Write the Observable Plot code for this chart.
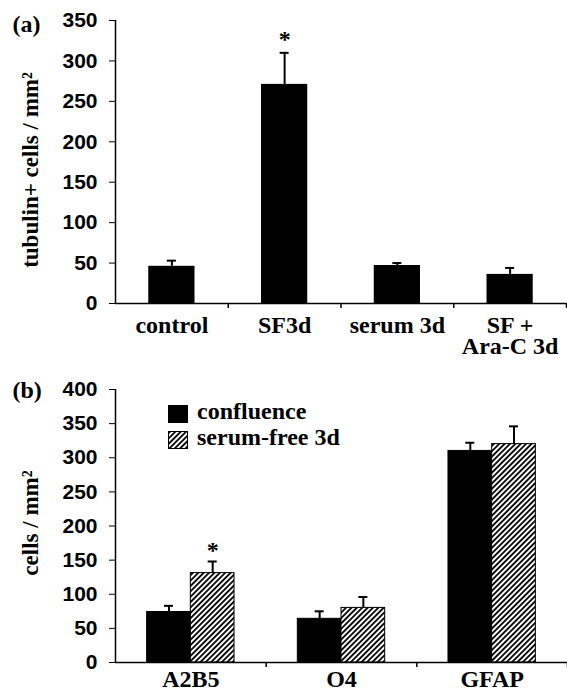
<!DOCTYPE html>
<html>
<head>
<meta charset="utf-8">
<script src="https://cdn.jsdelivr.net/npm/d3@7"></script>
<script src="https://cdn.jsdelivr.net/npm/@observablehq/plot@0.6"></script>
<style>
  html, body { margin: 0; padding: 0; background: #fff; }
  #wrap { position: relative; width: 567px; height: 693px; overflow: hidden; }
  #panelA, #panelB, #legend { position: absolute; left: 0; }
  #panelA { top: 0; }
  #panelB { top: 360px; }
  #legend { top: 0; pointer-events: none; }
</style>
</head>
<body>
<div id="wrap">
  <div id="panelA"></div>
  <div id="panelB"></div>
  <svg id="legend" width="567" height="693">
    <defs>
      <pattern id="hatch" patternUnits="userSpaceOnUse" width="3.8" height="3.8" patternTransform="rotate(45)">
        <rect width="3.8" height="3.8" fill="#fff"></rect>
        <line x1="1.9" y1="0" x2="1.9" y2="3.8" stroke="#000" stroke-width="1.8"></line>
      </pattern>
    </defs>
  </svg>
</div>
<script>
// ---------- Panel (a) data ----------
const catsA = ["control", "SF3d", "serum 3d", "SF +\nAra-C 3d"];
const meanA = [46, 271, 47, 36];
const errA = [7, 39, 3, 8];
const sigA = ["SF3d"];
const yTicksA = [0, 50, 100, 150, 200, 250, 300, 350];
const yLabelA = "tubulin+ cells / mm²";
const panelLabelA = "(a)";

// ---------- Panel (b) data ----------
const catsB = ["A2B5", "O4", "GFAP"];
const seriesB = ["confluence", "serum-free 3d"];
const confluenceMean = [74, 64, 310];
const confluenceErr = [9, 11, 12];
const serumFreeMean = [131, 80, 320];
const serumFreeErr = [17, 16, 26];
const sigB = [["A2B5", "serum-free 3d"]];
const yTicksB = [0, 50, 100, 150, 200, 250, 300, 350, 400];
const yLabelB = "cells / mm²";
const panelLabelB = "(b)";

// ---------- styling ----------
const SERIF = "Liberation Serif";
const SANS = "Liberation Sans";
const fills = ["#000", "url(#hatch)"];
const serifText = {fontFamily: SERIF, fontWeight: "bold", fontSize: 24};
const yLabelText = {fontFamily: SERIF, fontWeight: "bold", fontSize: 23};

// ---------- Panel (a) ----------
const rowsA = catsA.map((cat, i) => ({cat, i, mean: meanA[i], err: errA[i]}));
const bwA = 0.41, capA = 0.04;

const plotA = Plot.plot({
  width: 567, height: 360,
  marginLeft: 115, marginRight: 1, marginTop: 20, marginBottom: 57,
  style: {fontFamily: SANS, fontWeight: "bold", fontSize: "21px", background: "#fff", overflow: "visible"},
  x: {domain: [0, catsA.length], axis: null},
  y: {domain: [0, 350], axis: null},
  marks: [
    Plot.axisY({ticks: yTicksA, tickSize: 6, tickPadding: 12, label: null, tickFormat: d => d,
      fontFamily: SANS, fontWeight: "bold", fontSize: 21}),
    Plot.rectY(rowsA, {x1: d => d.i + 0.5 - bwA / 2, x2: d => d.i + 0.5 + bwA / 2, y1: 0, y2: "mean", fill: "#000"}),
    Plot.ruleX(rowsA, {x: d => d.i + 0.5, y1: "mean", y2: d => d.mean + d.err, strokeWidth: 2}),
    Plot.ruleY(rowsA, {y: d => d.mean + d.err, x1: d => d.i + 0.5 - capA, x2: d => d.i + 0.5 + capA, strokeWidth: 2}),
    Plot.ruleY([0], {strokeWidth: 1.5}),
    Plot.ruleX([0], {strokeWidth: 1.5}),
    Plot.ruleX(d3.range(1, catsA.length + 1), {x: d => d, y1: 0, y2: 0, insetBottom: -5, strokeWidth: 1.5}),
    Plot.text(rowsA, {x: d => d.i + 0.5, y: 0, text: "cat", lineAnchor: "top", lineHeight: 0.9, dy: 14, ...serifText}),
    Plot.text(rowsA.filter(d => sigA.includes(d.cat)), {x: d => d.i + 0.5, y: d => d.mean + d.err, text: () => "*",
      lineAnchor: "bottom", dy: -6, ...serifText}),
    Plot.text([yLabelA], {text: d => d, frameAnchor: "left", rotate: -90, dx: -85, dy: 8,
      textAnchor: "middle", lineAnchor: "middle", ...yLabelText}),
    Plot.text([panelLabelA], {text: d => d, frameAnchor: "top-left", dx: -103, dy: 11,
      textAnchor: "start", lineAnchor: "bottom", ...serifText})
  ]
});
document.getElementById("panelA").appendChild(plotA);

// ---------- Panel (b) ----------
const meansB = [confluenceMean, serumFreeMean];
const errsB = [confluenceErr, serumFreeErr];
const rowsB = [];
catsB.forEach((cat, i) => seriesB.forEach((series, j) => {
  rowsB.push({cat, i, series, j, mean: meansB[j][i], err: errsB[j][i]});
}));
const bwB = 0.29, capB = 0.03;
const cx = d => d.i + 0.5 + (d.j - 0.5) * bwB;

const plotB = Plot.plot({
  width: 567, height: 333,
  marginLeft: 115, marginRight: 0, marginTop: 29, marginBottom: 31,
  style: {fontFamily: SANS, fontWeight: "bold", fontSize: "21px", background: "transparent", overflow: "visible"},
  x: {domain: [0, catsB.length], axis: null},
  y: {domain: [0, 400], axis: null},
  marks: [
    Plot.axisY({ticks: yTicksB, tickSize: 6, tickPadding: 12, label: null, tickFormat: d => d,
      fontFamily: SANS, fontWeight: "bold", fontSize: 21}),
    Plot.rectY(rowsB, {x1: d => cx(d) - bwB / 2, x2: d => cx(d) + bwB / 2, y1: 0, y2: "mean",
      fill: d => fills[d.j], stroke: "#000", strokeWidth: 1}),
    Plot.ruleX(rowsB, {x: cx, y1: "mean", y2: d => d.mean + d.err, strokeWidth: 2}),
    Plot.ruleY(rowsB, {y: d => d.mean + d.err, x1: d => cx(d) - capB, x2: d => cx(d) + capB, strokeWidth: 2}),
    Plot.ruleY([0], {strokeWidth: 1.5}),
    Plot.ruleX([0], {strokeWidth: 1.5}),
    Plot.ruleX(d3.range(1, catsB.length + 1), {x: d => d, y1: 0, y2: 0, insetBottom: -5, strokeWidth: 1.5}),
    Plot.text(catsB, {x: (d, i) => i + 0.5, y: 0, text: d => d, lineAnchor: "top", lineHeight: 0.9, dy: 9, ...serifText}),
    Plot.text(rowsB.filter(d => sigB.some(([c, s]) => c === d.cat && s === d.series)),
      {x: cx, y: d => d.mean + d.err, text: () => "*", lineAnchor: "bottom", dy: -3, ...serifText}),
    Plot.text([yLabelB], {text: d => d, frameAnchor: "left", rotate: -90, dx: -85, dy: -3,
      textAnchor: "middle", lineAnchor: "middle", ...yLabelText}),
    Plot.text([panelLabelB], {text: d => d, frameAnchor: "top-left", dx: -103, dy: 8,
      textAnchor: "start", lineAnchor: "bottom", ...serifText})
  ]
});
document.getElementById("panelB").appendChild(plotB);

// ---------- Legend (panel b) ----------
const legend = d3.select("#legend");
seriesB.forEach((name, j) => {
  const g = legend.append("g").attr("transform", `translate(168, ${405 + j * 26})`);
  g.append("rect").attr("x", 0.5).attr("y", 0.5).attr("width", 19).attr("height", 17)
    .attr("fill", fills[j]).attr("stroke", "#000").attr("stroke-width", 1);
  g.append("text").attr("x", 29).attr("y", 14)
    .attr("font-family", SERIF).attr("font-weight", "bold").attr("font-size", 24)
    .text(name);
});
</script>
</body>
</html>
